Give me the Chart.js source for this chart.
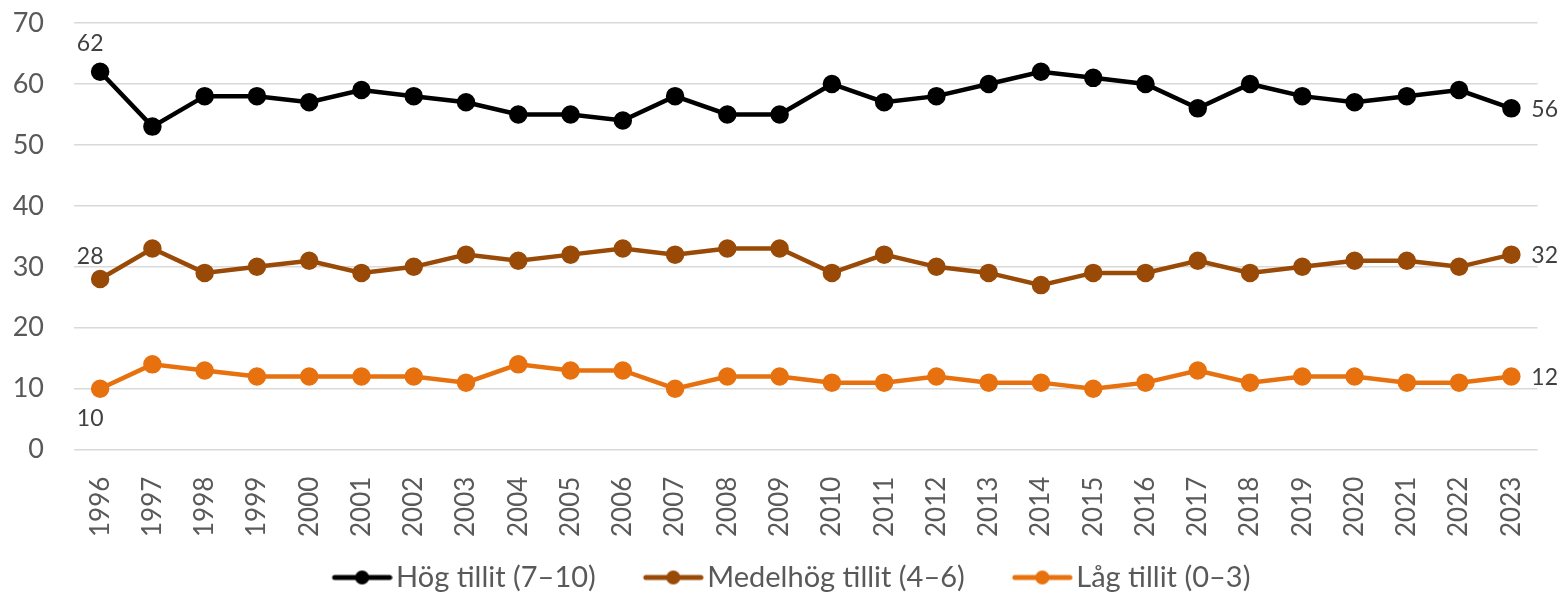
<!DOCTYPE html>
<html>
<head>
<meta charset="utf-8">
<script src="https://cdn.jsdelivr.net/npm/chart.js@4.4.1/dist/chart.umd.min.js"></script>
<style>
  html, body { margin: 0; padding: 0; background: #fff; }
  #wrap { width: 1562px; height: 593px; }
</style>
</head>
<body>
<div id="wrap"><canvas id="trustChart"></canvas></div>
<script>
// DATA
const years = ["1996","1997","1998","1999","2000","2001","2002","2003","2004","2005","2006","2007","2008","2009",
  "2010","2011","2012","2013","2014","2015","2016","2017","2018","2019","2020","2021","2022","2023"];
const hog = [62, 53, 58, 58, 57, 59, 58, 57, 55, 55, 54, 58, 55, 55, 60, 57, 58, 60, 62, 61, 60, 56, 60, 58, 57, 58, 59, 56];
const medel = [28, 33, 29, 30, 31, 29, 30, 32, 31, 32, 33, 32, 33, 33, 29, 32, 30, 29, 27, 29, 29, 31, 29, 30, 31, 31, 30, 32];
const lag = [10, 14, 13, 12, 12, 12, 12, 11, 14, 13, 13, 10, 12, 12, 11, 11, 12, 11, 11, 10, 11, 13, 11, 12, 12, 11, 11, 12];
const yTicks = [0, 10, 20, 30, 40, 50, 60, 70];

const FONT = "Lato, sans-serif";
const LEGEND_PAD = 3;
const LEGEND_BOX = 97 - LEGEND_PAD;   // marker slot, also gives the gap between items

// legend icon: line with a dot, sitting at the right of its slot
function legendIcon(color) {
  const c = document.createElement("canvas");
  c.width = LEGEND_BOX + 22; c.height = 16;
  const g = c.getContext("2d");
  const x1 = c.width - 58, x2 = c.width - 3;
  g.strokeStyle = color; g.lineWidth = 5; g.lineCap = "round";
  g.beginPath(); g.moveTo(x1, 8); g.lineTo(x2, 8); g.stroke();
  g.fillStyle = color;
  g.beginPath(); g.arc((x1 + x2) / 2, 8, 7, 0, Math.PI * 2); g.fill();
  return c;
}

// first/last value labels
const endLabels = {
  id: "endLabels",
  afterDatasetsDraw(chart) {
    const ctx = chart.ctx;
    ctx.save();
    ctx.font = "23px " + FONT;
    ctx.fillStyle = "#404040";
    ctx.textBaseline = "middle";
    const firstOffsets = [[-10, -28], [-10, -22], [-10, 30]];
    chart.data.datasets.forEach((ds, i) => {
      const pts = chart.getDatasetMeta(i).data;
      const first = pts[0], last = pts[pts.length - 1];
      ctx.textAlign = "center";
      ctx.fillText(ds.data[0], first.x + firstOffsets[i][0], first.y + firstOffsets[i][1]);
      ctx.textAlign = "left";
      ctx.fillText(ds.data[ds.data.length - 1], last.x + 20, last.y + 1);
    });
    ctx.restore();
  }
};

// nudge the legend down a few pixels
const legendShift = {
  id: "legendShift",
  afterLayout(chart) {
    if (chart.legend) { chart.legend.top += 9; chart.legend.bottom += 9; }
  }
};

function series(label, data, color) {
  return {
    label, data,
    borderColor: color, backgroundColor: color,
    borderWidth: 4.5, pointRadius: 7, pointHoverRadius: 7,
    pointBackgroundColor: color, pointBorderColor: color,
    tension: 0
  };
}

new Chart(document.getElementById("trustChart"), {
  type: "line",
  data: {
    labels: years,
    datasets: [
      series("Hög tillit (7–10)", hog, "#000000"),
      series("Medelhög tillit (4–6)", medel, "#9a4a07"),
      series("Låg tillit (0–3)", lag, "#e8710f")
    ]
  },
  plugins: [endLabels, legendShift],
  options: {
    responsive: true,
    maintainAspectRatio: false,
    animation: false,
    layout: { padding: { left: 0, right: 24, top: 0, bottom: 0 } },
    plugins: {
      tooltip: { enabled: false },
      legend: {
        position: "bottom",
        labels: {
          usePointStyle: true,
          pointStyleWidth: LEGEND_BOX,
          boxHeight: 16,
          padding: LEGEND_PAD,
          color: "#595959",
          font: { family: FONT, size: 29 },
          generateLabels(chart) {
            return chart.data.datasets.map((ds, i) => ({
              text: ds.label,
              pointStyle: legendIcon(ds.borderColor),
              fontColor: "#595959",
              lineWidth: 0,
              datasetIndex: i
            }));
          }
        }
      }
    },
    scales: {
      x: {
        offset: true,
        afterFit(axis) { axis.height -= 5; },
        grid: { display: false },
        border: { display: false },
        ticks: {
          color: "#595959",
          font: { family: FONT, size: 26 },
          minRotation: 90, maxRotation: 90,
          autoSkip: false,
          padding: 19
        }
      },
      y: {
        min: 0, max: 70,
        afterBuildTicks(axis) { axis.ticks = yTicks.map(v => ({ value: v })); },
        afterFit(axis) {
          axis.width = 74;
          axis.paddingTop = 23;
          axis.paddingBottom = 14;
        },
        grid: { color: "#d9d9d9", lineWidth: 1.5, drawTicks: false },
        border: { display: false },
        ticks: {
          color: "#595959",
          font: { family: FONT, size: 27 },
          padding: 30
        }
      }
    }
  }
});
</script>
</body>
</html>
